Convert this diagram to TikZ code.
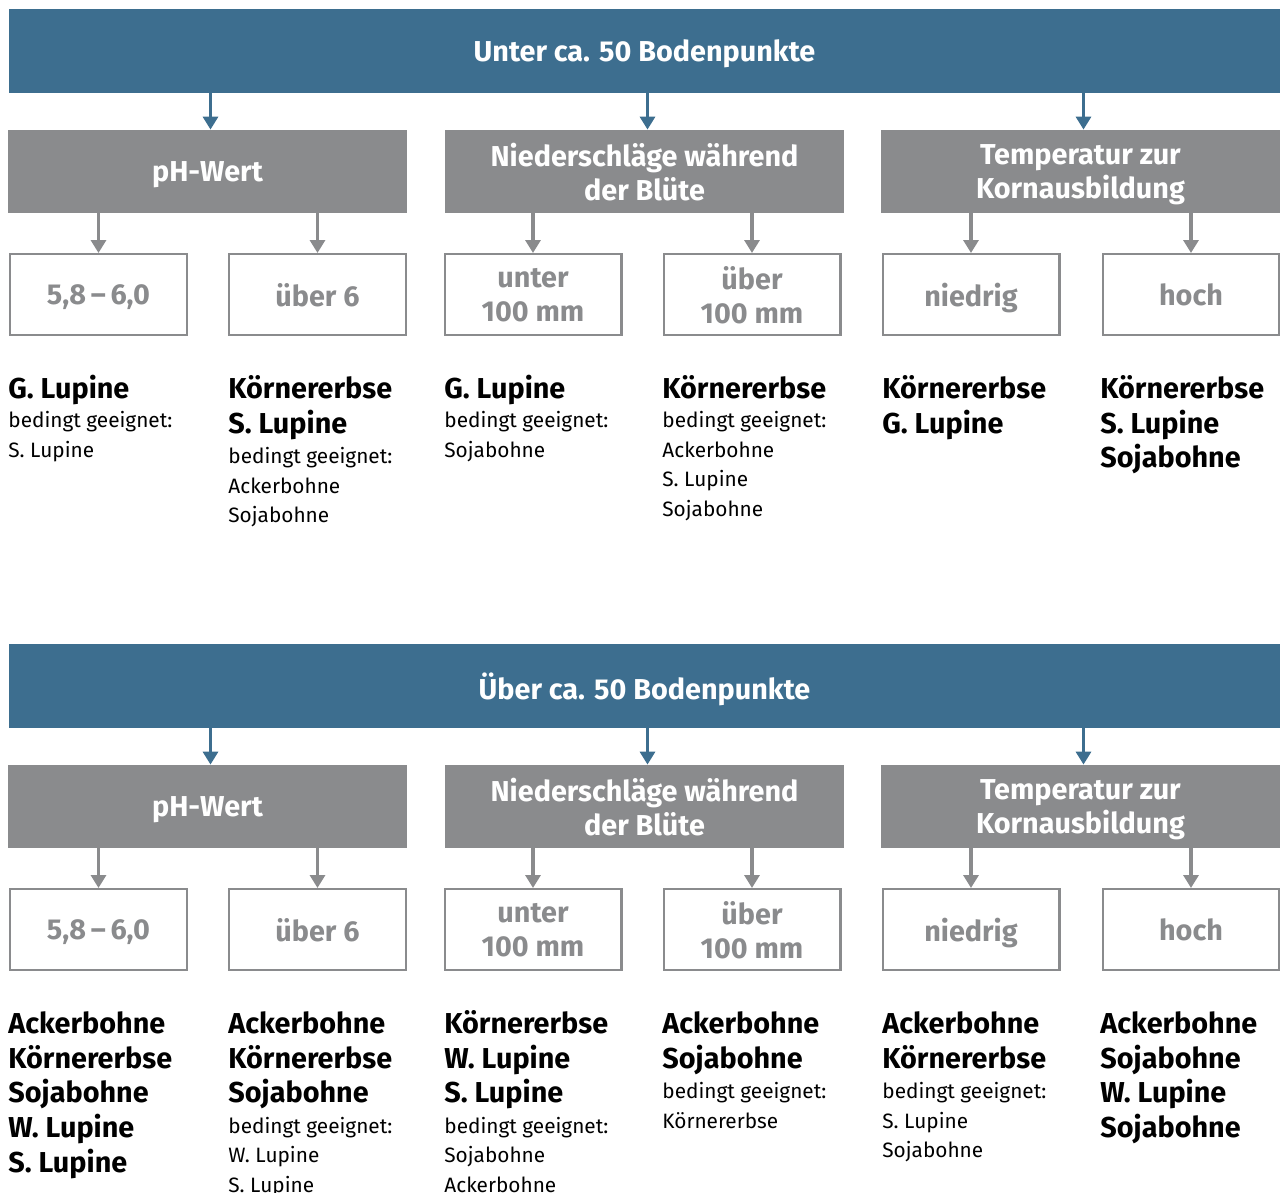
\documentclass[tikz,border=0pt]{standalone}
\usepackage{fontspec}
\setmainfont{Fira Sans}
\usepackage{tikz}
\usetikzlibrary{arrows.meta}

\definecolor{titelblau}{HTML}{3D6E8F}
\definecolor{kastengrau}{HTML}{8A8B8D}

\newcommand\fett[1]{{\fontsize{14.4}{14.75}\selectfont\bfseries #1}}
\newcommand\zeile{\rule{0pt}{12pt}}
\newcommand\listenschrift{\fontsize{10.4}{14.75}\selectfont\setlength{\lineskiplimit}{-20pt}}

\begin{document}
\begin{tikzpicture}[x=0.5pt,y=-0.5pt,
    titel/.style={fill=titelblau,text=white,font=\fontsize{14.4}{17}\selectfont\bfseries,text depth=0pt,minimum width=635.5pt,minimum height=42pt,inner sep=0pt},
    kopf/.style={fill=kastengrau,text=white,font=\fontsize{14.4}{17}\selectfont\bfseries,text depth=0pt,align=center,minimum width=199.5pt,minimum height=41.5pt,inner sep=0pt},
    wert/.style={draw=kastengrau,line width=1.2pt,text=kastengrau,font=\fontsize{14.4}{17}\selectfont\bfseries,text depth=0pt,align=center,minimum width=88.3pt,minimum height=40.3pt,inner sep=0pt},
    liste/.style={anchor=north west,align=left,inner sep=0pt,font=\listenschrift},
    blaupfeil/.style={draw=titelblau,line width=1.6pt,-{Triangle[length=6.5pt,width=7.5pt]}},
    graupfeil/.style={draw=kastengrau,line width=1.6pt,-{Triangle[length=6.5pt,width=7.5pt]}}]
    \useasboundingbox (0,0) rectangle (1280,1193);

    % zwei gleich aufgebaute Bloecke
    \foreach \s/\dy/\titeltext in {1/0/Unter ca. 50 Bodenpunkte, 2/635/Über ca. 50 Bodenpunkte} {
        \node[titel] (titel\s) at (644.5,{51+\dy}) {\titeltext};

        \node[kopf] (ph\s) at (207.5,{171.5+\dy}) {pH-Wert};
        \node[kopf] (regen\s) at (644.5,{171.5+\dy}) {Niederschläge während\\der Blüte};
        \node[kopf] (temp\s) at (1080.5,{171.5+\dy}) {Temperatur zur\\Kornausbildung};

        \node[wert] (phA\s) at (98.5,{294.5+\dy}) {5,8\,–\,6,0};
        \node[wert] (phB\s) at (317.5,{294.5+\dy}) {über 6};
        \node[wert] (regenA\s) at (533,{294.5+\dy}) {unter\\100 mm};
        \node[wert] (regenB\s) at (752,{294.5+\dy}) {über\\100 mm};
        \node[wert] (tempA\s) at (971,{294.5+\dy}) {niedrig};
        \node[wert] (tempB\s) at (1191,{294.5+\dy}) {hoch};

        \foreach \k in {ph,regen,temp} {
            \draw[blaupfeil] ([xshift=1.5pt]\k\s.north |- titel\s.south) -- ([xshift=1.5pt]\k\s.north);
            \draw[graupfeil] (\k A\s.north |- \k\s.south) -- (\k A\s.north);
            \draw[graupfeil] (\k B\s.north |- \k\s.south) -- (\k B\s.north);
        }
    }

    % Eignung, unter 50 Bodenpunkte
    \node[liste] (lphA1) at (8,374) {\fett{\zeile G. Lupine}\\ bedingt geeignet:\\ S. Lupine};
    \node[liste] (lphB1) at (228,374) {\fett{\zeile Körnererbse}\\[2.6pt] \fett{S. Lupine}\\[0.5pt] bedingt geeignet:\\ Ackerbohne\\ Sojabohne};
    \node[liste] (lregenA1) at (444,374) {\fett{\zeile G. Lupine}\\ bedingt geeignet:\\ Sojabohne};
    \node[liste] (lregenB1) at (662,374) {\fett{\zeile Körnererbse}\\ bedingt geeignet:\\ Ackerbohne\\ S. Lupine\\ Sojabohne};
    \node[liste] (ltempA1) at (882,374) {\fett{\zeile Körnererbse}\\[2.6pt] \fett{G. Lupine}};
    \node[liste] (ltempB1) at (1100,374) {\fett{\zeile Körnererbse}\\[2.6pt] \fett{S. Lupine}\\[2.6pt] \fett{Sojabohne}};

    % Eignung, ueber 50 Bodenpunkte
    \node[liste] (lphA2) at (8,1009) {\fett{\zeile Ackerbohne}\\[2.6pt] \fett{Körnererbse}\\[2.6pt] \fett{Sojabohne}\\[2.6pt] \fett{W. Lupine}\\[2.6pt] \fett{S. Lupine}};
    \node[liste] (lphB2) at (228,1009) {\fett{\zeile Ackerbohne}\\[2.6pt] \fett{Körnererbse}\\[2.6pt] \fett{Sojabohne}\\[0.5pt] bedingt geeignet:\\ W. Lupine\\ S. Lupine};
    \node[liste] (lregenA2) at (444,1009) {\fett{\zeile Körnererbse}\\[2.6pt] \fett{W. Lupine}\\[2.6pt] \fett{S. Lupine}\\[0.5pt] bedingt geeignet:\\ Sojabohne\\ Ackerbohne};
    \node[liste] (lregenB2) at (662,1009) {\fett{\zeile Ackerbohne}\\[2.6pt] \fett{Sojabohne}\\[0.5pt] bedingt geeignet:\\ Körnererbse};
    \node[liste] (ltempA2) at (882,1009) {\fett{\zeile Ackerbohne}\\[2.6pt] \fett{Körnererbse}\\[0.5pt] bedingt geeignet:\\ S. Lupine\\ Sojabohne};
    \node[liste] (ltempB2) at (1100,1009) {\fett{\zeile Ackerbohne}\\[2.6pt] \fett{Sojabohne}\\[2.6pt] \fett{W. Lupine}\\[2.6pt] \fett{Sojabohne}};
\end{tikzpicture}
\end{document}
